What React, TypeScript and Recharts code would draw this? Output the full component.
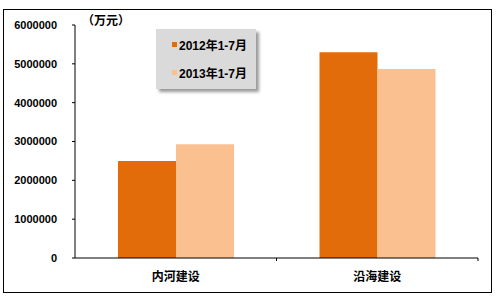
import React from 'react';
import { BarChart, Bar, XAxis, YAxis, Legend } from 'recharts';

// categories and series (unit: 万元)
const categories = ['内河建设', '沿海建设'];
const series2012 = [2500000, 5300000];
const series2013 = [2930000, 4870000];
const yTicks = [0, 1000000, 2000000, 3000000, 4000000, 5000000, 6000000];
const seriesNames = ['2012年1-7月', '2013年1-7月'];
const seriesColors = ['#E36C0A', '#FAC090'];

const data = categories.map((name, i) => ({
  name,
  y2012: series2012[i],
  y2013: series2013[i],
}));

const W = 498;
const H = 300;
const MARGIN = { top: 25, right: 20, bottom: 12, left: 10 };
const Y_WIDTH = 65;
const X_HEIGHT = 30;
// width of one category band, used to put the x tick marks on the band edges
const BAND = (W - MARGIN.left - MARGIN.right - Y_WIDTH) / categories.length;

const CN_FONT = '"Liberation Sans", "Noto Sans CJK SC", sans-serif';

const CategoryTick = ({ x, y, payload }: any) => (
  <g>
    <line x1={x + BAND / 2} y1={y - 14} x2={x + BAND / 2} y2={y - 11} stroke="#000" />
    <text
      x={x}
      y={y}
      dy="0.71em"
      textAnchor="middle"
      fontSize={12}
      fontWeight="bold"
      fontFamily={CN_FONT}
      fill="#000"
    >
      {payload.value}
    </text>
  </g>
);

const LegendBox = () => (
  <div
    style={{
      width: 100,
      height: 60,
      background: '#dadada',
      boxShadow: '3px 3px 3px #9a9a9a',
      fontFamily: CN_FONT,
      fontWeight: 'bold',
      fontSize: 12,
      color: '#000',
      boxSizing: 'border-box',
      padding: '8px 0 0 16px',
    }}
  >
    {seriesNames.map((n, i) => (
      <div key={n} style={{ display: 'flex', alignItems: 'center', height: 14, marginBottom: i === 0 ? 14 : 0 }}>
        <span style={{ width: 5, height: 5, background: seriesColors[i], display: 'inline-block', marginRight: 2 }} />
        <span>{n}</span>
      </div>
    ))}
  </div>
);

export default function App() {
  return (
    <div style={{ position: 'absolute', left: 0, top: 0, width: W, height: H, background: '#fff' }}>
      <div
        style={{
          position: 'absolute',
          left: 3,
          top: 9,
          width: 489,
          height: 284,
          border: '1px solid #000',
          boxSizing: 'border-box',
        }}
      />
      <div
        style={{
          position: 'absolute',
          left: 82,
          top: 11,
          fontFamily: CN_FONT,
          fontWeight: 'bold',
          fontSize: 12,
          color: '#000',
        }}
      >
        （万元）
      </div>
      <div style={{ position: 'absolute', left: 0, top: 0 }}>
        <BarChart width={W} height={H} data={data} margin={MARGIN} barGap={0} barSize={58}>
          <XAxis
            dataKey="name"
            height={X_HEIGHT}
            axisLine={{ stroke: '#000' }}
            tickLine={false}
            tickSize={3}
            tickMargin={11}
            tick={<CategoryTick />}
            interval={0}
          />
          <YAxis
            width={Y_WIDTH}
            domain={[0, 6000000]}
            ticks={yTicks}
            interval={0}
            axisLine={{ stroke: '#000' }}
            tickLine={{ stroke: '#000' }}
            tickSize={3}
            tickMargin={15}
            tick={{ fill: '#000', fontSize: 11, fontWeight: 'bold', fontFamily: CN_FONT }}
          />
          <Legend
            content={<LegendBox />}
            layout="vertical"
            verticalAlign="middle"
            align="center"
            wrapperStyle={{ left: 156, top: 29, width: 'auto' }}
          />
          <Bar dataKey="y2012" name={seriesNames[0]} fill={seriesColors[0]} isAnimationActive={false} />
          <Bar dataKey="y2013" name={seriesNames[1]} fill={seriesColors[1]} isAnimationActive={false} />
        </BarChart>
      </div>
    </div>
  );
}
